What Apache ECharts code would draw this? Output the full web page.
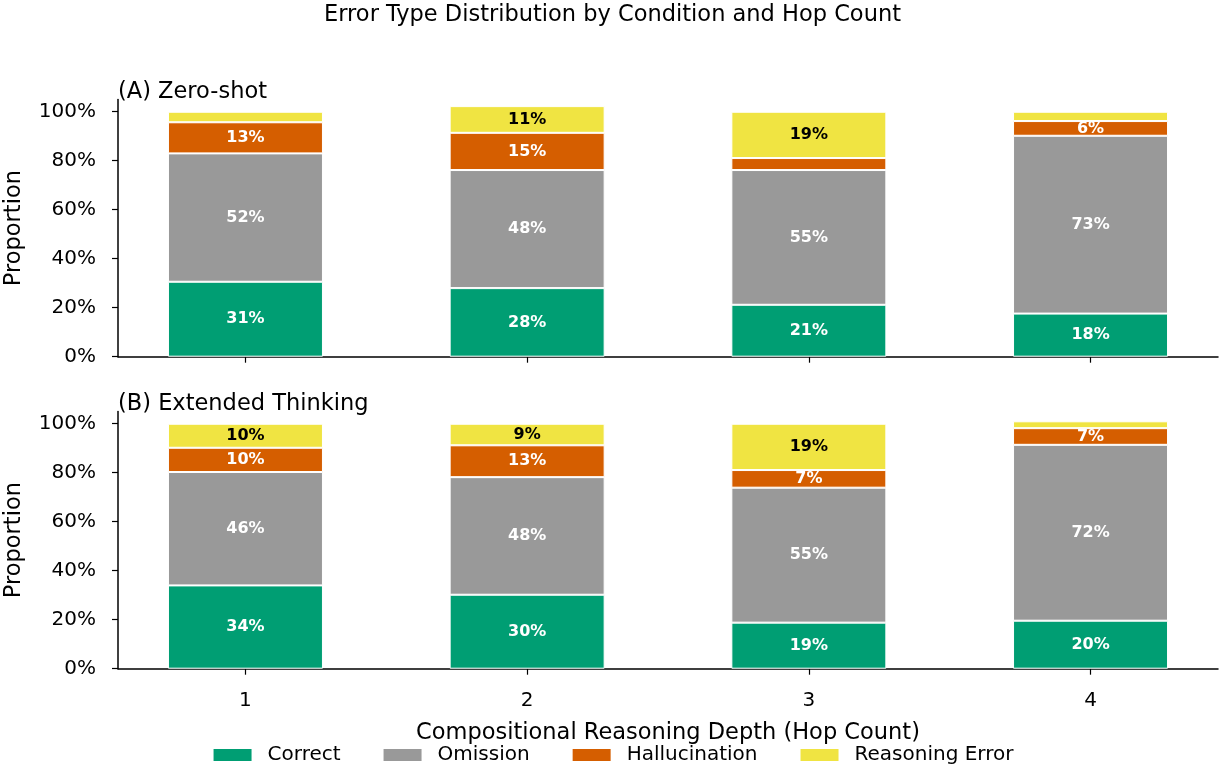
<!DOCTYPE html>
<html><head><meta charset="utf-8">
<script src="https://cdn.jsdelivr.net/npm/echarts@6/dist/echarts.min.js"></script>
<style>html,body{margin:0;padding:0;background:#fff}#chart{width:1225px;height:767px}</style>
</head><body><div id="chart"></div>
<script>
const hops = [1, 2, 3, 4];
const errorTypes = ['Correct', 'Omission', 'Hallucination', 'Reasoning Error'];
const panelTitles = ['(A) Zero-shot', '(B) Extended Thinking'];
const yTicks = [0, 0.2, 0.4, 0.6, 0.8, 1.0];

// Zero-shot
const zsCorrect = [0.306, 0.280, 0.212, 0.176];
const zsOmission = [0.524, 0.482, 0.550, 0.726];
const zsHalluc = [0.127, 0.152, 0.049, 0.060];
const zsReason = [0.043, 0.109, 0.189, 0.038];
// Extended thinking
const etCorrect = [0.340, 0.302, 0.188, 0.196];
const etOmission = [0.463, 0.480, 0.551, 0.718];
const etHalluc = [0.099, 0.130, 0.072, 0.068];
const etReason = [0.098, 0.088, 0.189, 0.028];

const colors = ['#009E73', '#999999', '#D55E00', '#F0E442'];
const FONT = 'DejaVu Sans';
const panelData = [
  [zsCorrect, zsOmission, zsHalluc, zsReason],
  [etCorrect, etOmission, etHalluc, etReason]
];

const chart = echarts.init(document.getElementById('chart'), null, {renderer: 'canvas'});

const gridTops = [99.5, 411.5];
const gridH = 257.2;

const grids = gridTops.map(t => ({left: 118, right: 7, top: t, height: gridH, outerBoundsMode: 'none', containLabel: false}));

const xAxes = [0, 1].map(p => ({
  type: 'value', gridIndex: p, min: 0.5475, max: 4.4525,
  axisLine: {show: true, lineStyle: {color: '#000', width: 1.5}},
  axisTick: {show: true, customValues: hops, length: 6, lineStyle: {color: '#000', width: 1.2}},
  axisLabel: {show: p === 1, customValues: hops, margin: 22, fontSize: 20, color: '#000', fontFamily: FONT,
    formatter: v => String(Math.round(v))},
  splitLine: {show: false},
  name: p === 1 ? 'Compositional Reasoning Depth (Hop Count)' : '',
  nameLocation: 'middle', nameGap: 53,
  nameTextStyle: {fontSize: 22.5, color: '#000', fontFamily: FONT}
}));

const yAxes = [0, 1].map(p => ({
  type: 'value', gridIndex: p, min: 0, max: 1.05,
  axisLine: {show: true, lineStyle: {color: '#000', width: 1.5}},
  axisTick: {show: true, customValues: yTicks, length: 6, lineStyle: {color: '#000', width: 1.2}},
  axisLabel: {customValues: yTicks, margin: 22, fontSize: 20, color: '#000', fontFamily: FONT,
    formatter: v => Math.round(v * 100) + '%'},
  splitLine: {show: false},
  name: 'Proportion', nameLocation: 'middle', nameGap: 92,
  nameTextStyle: {fontSize: 22.5, color: '#000', fontFamily: FONT}
}));

const series = [];
panelData.forEach((arrs, p) => {
  arrs.forEach((vals, k) => {
    series.push({
      type: 'bar', name: errorTypes[k], xAxisIndex: p, yAxisIndex: p, stack: 'panel' + p,
      barWidth: 155,
      encode: {x: 1, y: 0},
      itemStyle: {color: colors[k], borderColor: '#fff', borderWidth: 1},
      label: {
        position: 'inside', fontSize: 16, fontWeight: 'bold', fontFamily: FONT,
        color: k === 3 ? '#000' : '#fff',
        formatter: prm => Math.round(prm.value[0] * 100) + '%'
      },
      data: hops.map((h, i) => ({value: [vals[i], h], label: {show: vals[i] >= 0.05}}))
    });
  });
});

const option = {
  animation: false,
  backgroundColor: '#fff',
  title: [
    {text: 'Error Type Distribution by Condition and Hop Count', left: 'center', top: 4, padding: 0,
      textStyle: {fontSize: 22.5, fontWeight: 'normal', color: '#000', fontFamily: FONT}},
    {text: panelTitles[0], left: 118, top: 81, padding: 0,
      textStyle: {fontSize: 22.5, fontWeight: 'normal', color: '#000', fontFamily: FONT}},
    {text: panelTitles[1], left: 118, top: 393, padding: 0,
      textStyle: {fontSize: 22.5, fontWeight: 'normal', color: '#000', fontFamily: FONT}}
  ],
  legend: {
    data: errorTypes, top: 740, left: 'center', itemWidth: 40, itemHeight: 14, itemGap: 41,
    icon: 'rect',
    textStyle: {fontSize: 20, color: '#000', fontFamily: FONT, padding: [0, 0, 0, 10]}
  },
  grid: grids,
  xAxis: xAxes,
  yAxis: yAxes,
  series: series
};
chart.setOption(option);
</script>
</body></html>
